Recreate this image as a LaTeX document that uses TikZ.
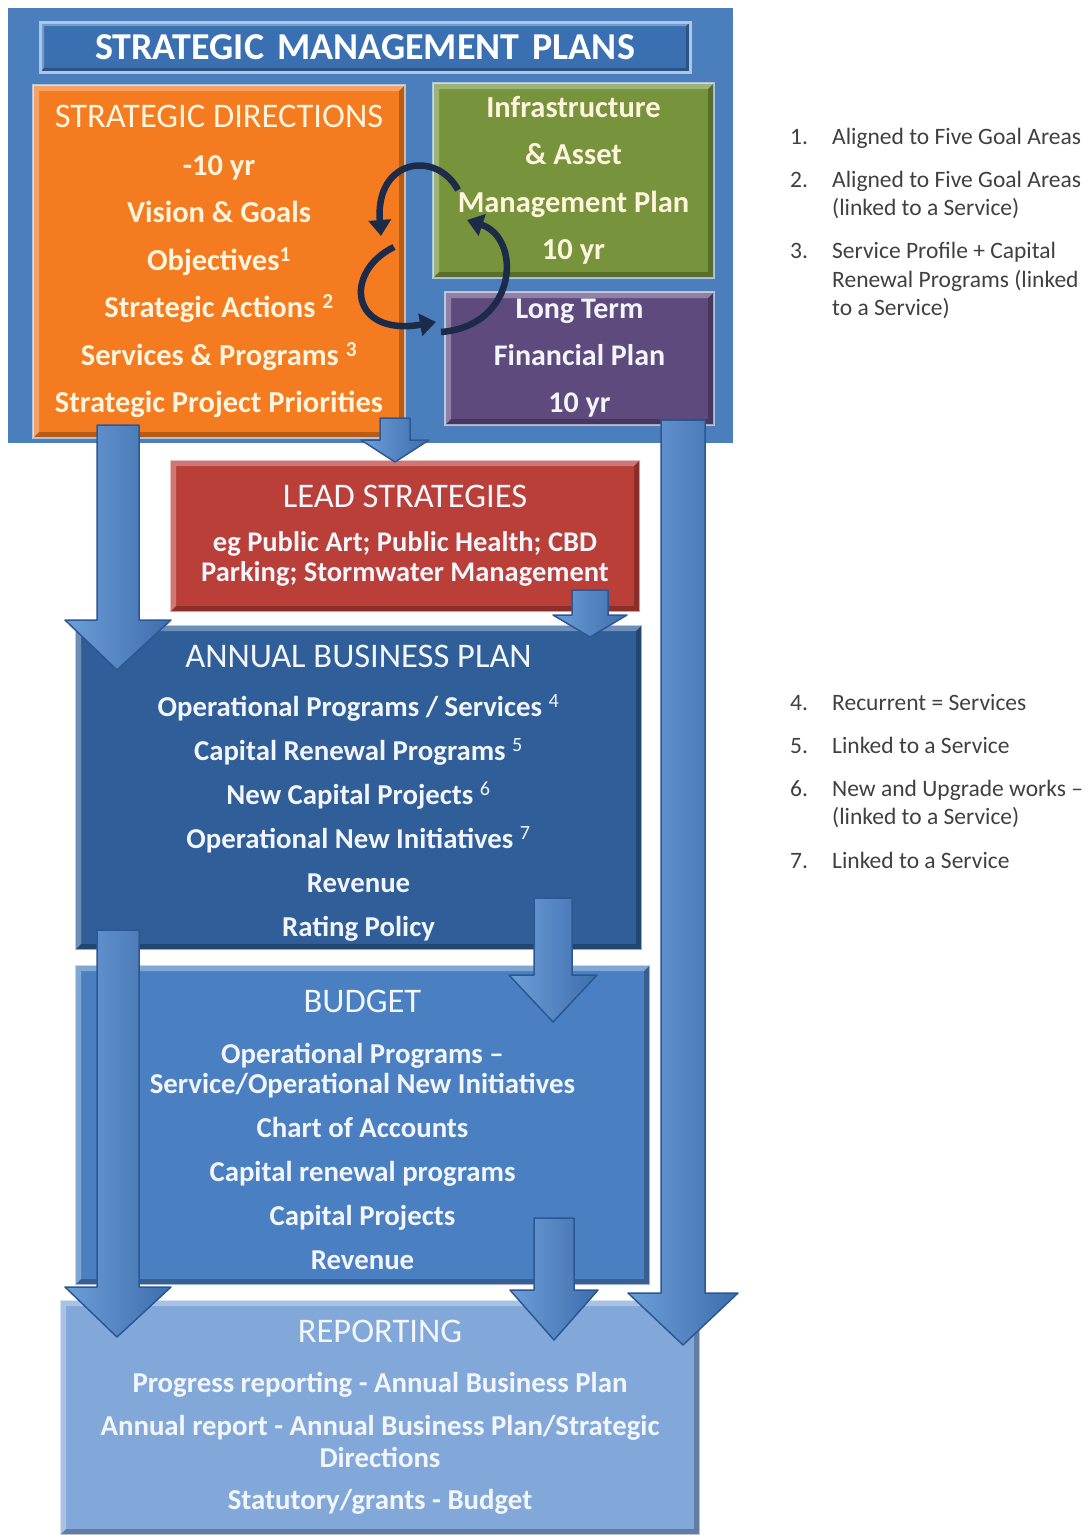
\documentclass[tikz,border=0pt]{standalone}
\usepackage{fontspec}
\setmainfont{Carlito}
\usetikzlibrary{arrows.meta,calc}

\definecolor{panelblue}{HTML}{4A7EBD}
\definecolor{titleblue}{HTML}{3A6FB2}
\definecolor{titleedge}{HTML}{A9C6E8}
\definecolor{sdorange}{HTML}{F47B20}
\definecolor{iamgreen}{HTML}{77933C}
\definecolor{ltfppurple}{HTML}{5F4A7E}
\definecolor{leadred}{HTML}{B93F38}
\definecolor{abpblue}{HTML}{2F5E98}
\definecolor{budgetblue}{HTML}{4A80C2}
\definecolor{reportblue}{HTML}{82A8DA}
\definecolor{arrowlight}{HTML}{6E9ED8}
\definecolor{arrowmid}{HTML}{5288C8}
\definecolor{arrowdark}{HTML}{3D6EAC}
\definecolor{arrowedge}{HTML}{2B5894}
\definecolor{cyclenavy}{HTML}{1C2B4A}
\definecolor{notegrey}{HTML}{404040}
\definecolor{cream}{HTML}{FFF4DE}
\definecolor{paletext}{HTML}{F2F6FC}

\tikzset{
  bevel/.style={path picture={
    \fill[white,opacity=.30]
      (path picture bounding box.north west) -- (path picture bounding box.north east)
      -- ([shift={(-#1pt,-#1pt)}]path picture bounding box.north east)
      -- ([shift={(#1pt,-#1pt)}]path picture bounding box.north west)
      -- ([shift={(#1pt,#1pt)}]path picture bounding box.south west)
      -- (path picture bounding box.south west) -- cycle;
    \fill[black,opacity=.25]
      (path picture bounding box.south east) -- (path picture bounding box.south west)
      -- ([shift={(#1pt,#1pt)}]path picture bounding box.south west)
      -- ([shift={(-#1pt,#1pt)}]path picture bounding box.south east)
      -- ([shift={(-#1pt,-#1pt)}]path picture bounding box.north east)
      -- (path picture bounding box.north east) -- cycle;
  }},
  planbox/.style={rectangle, inner sep=0pt, align=center, bevel=6,
    draw=white, draw opacity=.55, line width=2pt},
  flowshape/.style={draw=arrowedge, line width=1.5pt, line join=round,
    left color=arrowlight, middle color=arrowmid, right color=arrowdark},
  cyclearrow/.style={draw=cyclenavy, line width=6.5pt,
    -{Triangle[length=16pt,width=22pt]}},
  notenum/.style={anchor=base west, inner sep=0pt, text=notegrey,
    font=\fontsize{23.5}{28}\selectfont},
  notetext/.style={anchor=base west, inner sep=0pt, text=notegrey,
    font=\fontsize{23.5}{28}\selectfont},
}

% block arrow: start, tip, shaft half-width, head half-width, head length
\newcommand\flowarrow[5]{%
  \path[flowshape] let \p1=(#1), \p2=(#2) in
    (\x1-#3pt,\y1) -- (\x1-#3pt,\y2+#5pt) -- (\x1-#4pt,\y2+#5pt) -- (\x2,\y2)
    -- (\x1+#4pt,\y2+#5pt) -- (\x1+#3pt,\y2+#5pt) -- (\x1+#3pt,\y1) -- cycle;
}
\newcommand\hdr[1]{{\mdseries\fontsize{34.5}{40}\selectfont #1}}

\begin{document}
\begin{tikzpicture}[x=1pt,y=-1pt]
\useasboundingbox (0,0) rectangle (1091,1535);
\fill[white] (0,0) rectangle (1091,1535);

% ---- strategic management plans panel
\node[rectangle, fill=panelblue, minimum width=725, minimum height=435, inner sep=0pt]
  (panel) at (370.5,225.5) {};
\node[rectangle, fill=titleblue, draw=titleedge, line width=3pt, bevel=4,
  minimum width=650, minimum height=50, inner sep=0pt, text=white,
  font=\fontsize{38}{40}\bfseries\selectfont] (smp) at (365,47)
  {STRATEGIC\hspace{0.12em} MANAGEMENT\hspace{0.12em} PLANS};

\node[planbox, fill=sdorange, minimum width=372, minimum height=353, text=cream,
  font=\fontsize{30.5}{47.5}\bfseries\selectfont] (sd) at (219,261.5)
  {\hdr{STRATEGIC DIRECTIONS}\\-10 yr\\Vision \& Goals\\Objectives\textsuperscript{1}\\
   Strategic Actions \textsuperscript{2}\\Services \& Programs \textsuperscript{3}\\
   Strategic Project Priorities};

\node[planbox, fill=iamgreen, minimum width=281, minimum height=195, text=cream,
  font=\fontsize{30.5}{47.5}\bfseries\selectfont] (iam) at (573.5,180.5)
  {Infrastructure\\\& Asset\\Management Plan\\10 yr};

\node[planbox, fill=ltfppurple, minimum width=269, minimum height=133, text=paletext,
  font=\fontsize{30}{47}\bfseries\selectfont] (ltfp) at (579.5,358.5)
  {Long Term\\Financial Plan\\10 yr};

% ---- cycle between the three plans
\coordinate (c1a) at (458,190); \coordinate (c1b) at (437,150);
\coordinate (c1c) at (375,158); \coordinate (c1d) at (381,236);
\coordinate (c2a) at (394,247); \coordinate (c2b) at (343,272);
\coordinate (c2c) at (350,337); \coordinate (c2d) at (436,322);
\coordinate (c3a) at (441,332); \coordinate (c3b) at (518,326);
\coordinate (c3c) at (522,238); \coordinate (c3d) at (467,220);
\draw[cyclearrow] (c1a) .. controls (c1b) and (c1c) .. (c1d);
\draw[cyclearrow] (c2a) .. controls (c2b) and (c2c) .. (c2d);
\draw[cyclearrow] (c3a) .. controls (c3b) and (c3c) .. (c3d);

% ---- lower stack
\node[planbox, fill=leadred, minimum width=470, minimum height=152, text=paletext,
  font=\fontsize{28.5}{30}\bfseries\selectfont] (lead) at (405,536)
  {\hdr{LEAD STRATEGIES}\\[14pt]eg Public Art; Public Health; CBD\\Parking; Stormwater Management};

\node[planbox, fill=abpblue, minimum width=567, minimum height=325, text=paletext,
  font=\fontsize{28.8}{44}\bfseries\selectfont] (abp) at (358.5,787.5)
  {\rule{0pt}{33pt}\hdr{ANNUAL BUSINESS PLAN}\\[5pt]
   Operational Programs / Services \textsuperscript{\mdseries 4}\\
   Capital Renewal Programs \textsuperscript{\mdseries 5}\\
   New Capital Projects \textsuperscript{\mdseries 6}\\
   Operational New Initiatives \textsuperscript{\mdseries 7}\\
   Revenue\\Rating Policy};

\node[planbox, fill=budgetblue, minimum width=575, minimum height=320, text=paletext,
  font=\fontsize{28.8}{30}\bfseries\selectfont] (budget) at (362.5,1125)
  {\rule{0pt}{33pt}\hdr{BUDGET}\\[21pt]
   Operational Programs --\\Service/Operational New Initiatives\\[14pt]
   Chart of Accounts\\[14pt]Capital renewal programs\\[14pt]
   Capital Projects\\[14pt]Revenue};

\node[planbox, fill=reportblue, minimum width=640, minimum height=235, text=paletext,
  font=\fontsize{28.8}{32}\bfseries\selectfont] (report) at (380,1417.5)
  {\hdr{REPORTING}\\[18pt]
   Progress reporting - Annual Business Plan\\[11pt]
   Annual report - Annual Business Plan/Strategic\\Directions\\[10pt]
   Statutory/grants - Budget};

% ---- flow arrows
\coordinate (a1s) at (118,425);  \coordinate (a1t) at (117,670);
\coordinate (a2s) at (395,418);  \coordinate (a2t) at (395,462);
\coordinate (a3s) at (683,420);  \coordinate (a3t) at (683,1345);
\coordinate (a4s) at (590,590);  \coordinate (a4t) at (590,637);
\coordinate (a5s) at (553,898);  \coordinate (a5t) at (553,1022);
\coordinate (a6s) at (118,930);  \coordinate (a6t) at (117,1337);
\coordinate (a7s) at (554,1218); \coordinate (a7t) at (554,1340);
\flowarrow{a1s}{a1t}{21}{53}{50}
\flowarrow{a2s}{a2t}{15}{34}{22}
\flowarrow{a3s}{a3t}{22}{55}{52}
\flowarrow{a4s}{a4t}{18}{37}{22}
\flowarrow{a5s}{a5t}{19}{44}{47}
\flowarrow{a6s}{a6t}{21}{53}{50}
\flowarrow{a7s}{a7t}{20}{44}{50}

% ---- footnotes
\node[notenum] (k1) at (790,144) {1.};
\node[notetext] (t1) at (832,144) {Aligned to Five Goal Areas};
\node[notenum] (k2) at (790,187) {2.};
\node[notetext] (t2a) at (832,187) {Aligned to Five Goal Areas};
\node[notetext] (t2b) at (832,215) {(linked to a Service)};
\node[notenum] (k3) at (790,258) {3.};
\node[notetext] (t3a) at (832,258) {Service Profile + Capital};
\node[notetext] (t3b) at (832,287) {Renewal Programs (linked};
\node[notetext] (t3c) at (832,315) {to a Service)};
\node[notenum] (k4) at (790,710) {4.};
\node[notetext] (t4) at (832,710) {Recurrent = Services};
\node[notenum] (k5) at (790,753) {5.};
\node[notetext] (t5) at (832,753) {Linked to a Service};
\node[notenum] (k6) at (790,796) {6.};
\node[notetext] (t6a) at (832,796) {New and Upgrade works --};
\node[notetext] (t6b) at (832,824) {(linked to a Service)};
\node[notenum] (k7) at (790,868) {7.};
\node[notetext] (t7) at (832,868) {Linked to a Service};
\end{tikzpicture}
\end{document}
